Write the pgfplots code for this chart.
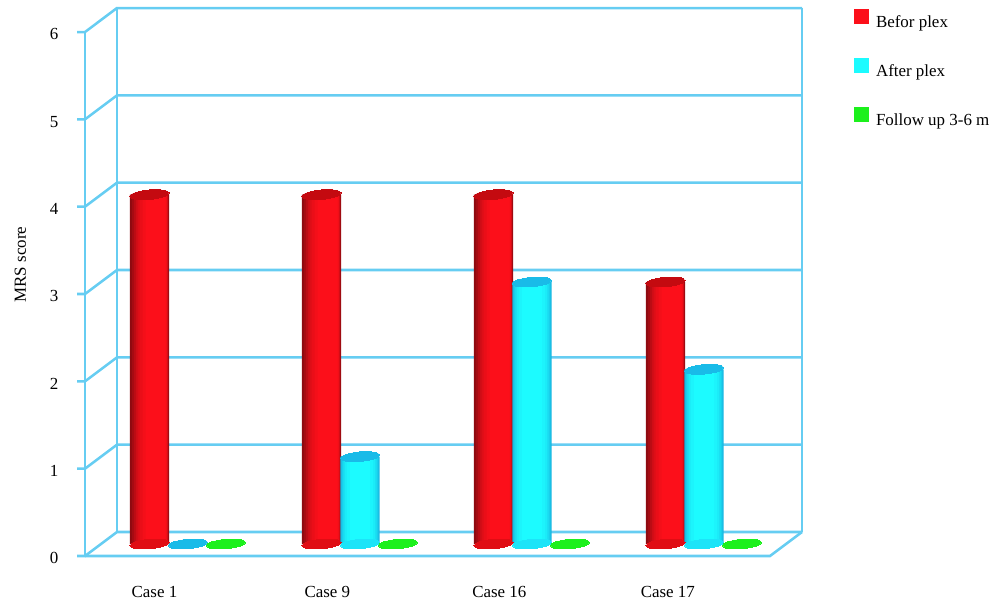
\documentclass[border=0pt]{standalone}
\usepackage{fontspec}
\setmainfont{Liberation Serif}
\usepackage{pgfplots}
\pgfplotsset{compat=1.18}
\usepackage{pgfplotstable}
\definecolor{framec}{HTML}{66CDF2}
\definecolor{redA}{HTML}{FC0F1A}
\definecolor{redD}{HTML}{8E0A10}
\definecolor{redT}{HTML}{C40A10}
\definecolor{redB}{HTML}{E00D14}
\definecolor{cyanA}{HTML}{1CFBFF}
\definecolor{cyanD}{HTML}{18B5E0}
\definecolor{cyanT}{HTML}{19BBE8}
\definecolor{cyanB}{HTML}{1CE4F8}
\definecolor{greenA}{HTML}{1CF01C}
% x: case index (0..3) plus bar offset; y: MRS score
\pgfplotstableread{
x val
-0.2238 4
0.7762 4
1.7762 4
2.7762 3
}\tblBefore
\pgfplotstableread{
x val
0 0
1 1
2 3
3 2
}\tblAfter
\pgfplotstableread{
x val
1 1
2 3
3 2
}\tblAfterBars
\pgfplotstableread{
x val
0.2209 0
1.2209 0
2.2209 0
3.2209 0
}\tblFollow
\newcommand\gridk[2]{\addplot[framec,line width=1.9pt,forget plot] coordinates {(-0.6453,#1)(-0.5988,#1)(-0.4128,#2)(3.5698,#2)};}
\newcommand\lfont{\fontsize{12.7pt}{14pt}\selectfont}
\newcommand\ytl[2]{\node[font=\lfont] at (axis cs:-0.779,#2) {#1};}
\newcommand\lay[4]{\addplot[ybar,bar width=#2pt,bar shift=#3pt,draw=none,fill=#4,forget plot] table[x=x,y=val] {#1};}
\pgfplotsset{
 ell/.style={only marks,mark=*,mark size=14.7pt,forget plot,mark options={draw=#1,line width=0pt,fill=#1,rotate=5,yscale=0.24}},
}
\begin{document}
\begin{tikzpicture}
\begin{axis}[
 scale only axis,width=750pt,height=459pt,
 xmin=-1.093,xmax=4.721,ymin=-0.7787,ymax=6.2293,
 axis lines=none,clip=false,
 legend style={at={(axis cs:3.87,6.133)},anchor=north west,draw=none,fill=none,
   row sep=21.5pt,font=\lfont,inner sep=0pt,
   nodes={inner sep=0pt,anchor=west}},
 legend cell align=left,
]
\path (rel axis cs:0,0) rectangle (rel axis cs:1,1);
% frame
\gridk{-0.1374}{0.1374}
\gridk{0.8626}{1.1374}
\gridk{1.8626}{2.1374}
\gridk{2.8626}{3.1374}
\gridk{3.8626}{4.1374}
\gridk{4.8626}{5.1374}
\gridk{5.8626}{6.1374}
\addplot[framec,line width=1.9pt,forget plot] coordinates {(-0.5988,-0.1374)(-0.5988,5.8626)};
\addplot[framec,line width=1.9pt,forget plot] coordinates {(-0.4128,0.1374)(-0.4128,6.1374)};
\addplot[framec,line width=1.9pt,forget plot] coordinates {(3.5698,0.1374)(3.5698,6.1374)};
\addplot[framec,line width=1.9pt,forget plot] coordinates {(-0.5988,-0.1374)(3.3837,-0.1374)(3.5698,0.1374)};
% Before plex
\addplot[ell=redB] table[x=x,y expr=0] {\tblBefore};
\lay{\tblBefore}{29.4}{0}{redD}
\lay{\tblBefore}{27.6}{0.5625}{redD!80!redA}
\lay{\tblBefore}{25.8}{1.125}{redD!60!redA}
\lay{\tblBefore}{24}{1.6875}{redD!42!redA}
\lay{\tblBefore}{22.2}{2.25}{redD!28!redA}
\lay{\tblBefore}{20.4}{2.8125}{redD!16!redA}
\lay{\tblBefore}{18}{3.75}{redD!7!redA}
\lay{\tblBefore}{15}{4.5}{redA}
\addplot[ell=redT] table[x=x,y=val] {\tblBefore};
% After plex
\addplot[ell=cyanB] table[x=x,y expr=0] {\tblAfterBars};
\lay{\tblAfterBars}{29.4}{0}{cyanD}
\lay{\tblAfterBars}{28}{0}{cyanD!75!cyanA}
\lay{\tblAfterBars}{26.5}{0}{cyanD!55!cyanA}
\lay{\tblAfterBars}{25}{0}{cyanD!38!cyanA}
\lay{\tblAfterBars}{22.5}{0}{cyanD!22!cyanA}
\lay{\tblAfterBars}{19.5}{0}{cyanD!10!cyanA}
\lay{\tblAfterBars}{15}{0}{cyanA}
\addplot[ell=cyanT] table[x=x,y=val] {\tblAfter};
% Follow up
\addplot[ell=greenA] table[x=x,y=val] {\tblFollow};
% legend
\addlegendimage{legend image code/.code={\fill[redA] (0,-0.5pt) rectangle (10.5pt,10pt);}}
\addlegendentry{\hspace{5.7pt}Befor plex}
\addlegendimage{legend image code/.code={\fill[cyanA] (0,-0.5pt) rectangle (10.5pt,10pt);}}
\addlegendentry{\hspace{5.7pt}After plex}
\addlegendimage{legend image code/.code={\fill[greenA] (0,-0.5pt) rectangle (10.5pt,10pt);}}
\addlegendentry{\hspace{5.7pt}Follow up 3-6 m}
% text
\ytl{0}{-0.165}\ytl{1}{0.835}\ytl{2}{1.835}\ytl{3}{2.835}\ytl{4}{3.835}\ytl{5}{4.835}\ytl{6}{5.835}
\node[font=\lfont] at (axis cs:-0.195,-0.555) {Case 1};
\node[font=\lfont] at (axis cs:0.81,-0.555) {Case 9};
\node[font=\lfont] at (axis cs:1.81,-0.555) {Case 16};
\node[font=\lfont] at (axis cs:2.79,-0.555) {Case 17};
\node[font=\lfont,rotate=90] at (axis cs:-0.975,3.2) {MRS score};
\end{axis}
\end{tikzpicture}
\end{document}
